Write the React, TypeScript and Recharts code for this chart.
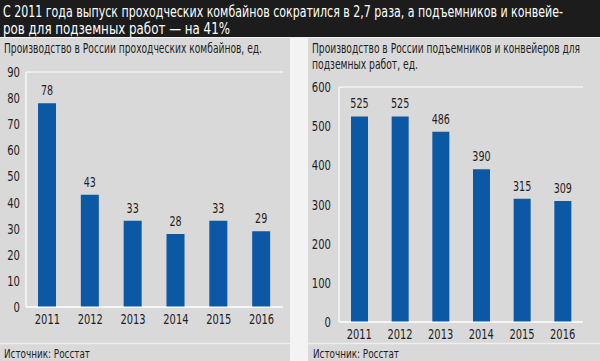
import React from "react";
import { BarChart, Bar, XAxis, YAxis, CartesianGrid, LabelList } from "recharts";

const years = ["2011", "2012", "2013", "2014", "2015", "2016"];
const combines = [78, 43, 33, 28, 33, 29];
const lifts = [525, 525, 486, 390, 315, 309];
const leftTicks = [0, 10, 20, 30, 40, 50, 60, 70, 80, 90];
const rightTicks = [0, 100, 200, 300, 400, 500, 600];

const headerLines = [
  "С 2011 года выпуск проходческих комбайнов сократился в 2,7 раза, а подъемников и конвейе-",
  "ров для подземных работ — на 41%",
];
const leftTitle = ["Производство в России проходческих комбайнов, ед."];
const rightTitle = ["Производство в России подъемников и конвейеров для", "подземных работ, ед."];
const sourceText = "Источник: Росстат";

const FONT = "'DejaVu Sans Condensed', 'DejaVu Sans', sans-serif";
const BAR = "#0b59a5";
const PANEL = "#d9d9d9";
const INK = "#1e1e1e";

const leftData = years.map((y, i) => ({ year: y, value: combines[i] }));
const rightData = years.map((y, i) => ({ year: y, value: lifts[i] }));

const XTick = (props: any) => {
  const { x, y, payload } = props;
  const s = String(payload.value);
  return (
    <text x={x} y={y} dy={11} textAnchor="middle" fill={INK} fontSize={14.5} fontFamily={FONT}
      textLength={s.length * 6.3} lengthAdjust="spacingAndGlyphs">{s}</text>
  );
};

const YTick = (props: any) => {
  const { x, y, payload } = props;
  const s = String(payload.value);
  return (
    <text x={x} y={y} dy={5} textAnchor="end" fill={INK} fontSize={14} fontFamily={FONT}
      textLength={s.length * 6.4} lengthAdjust="spacingAndGlyphs">{s}</text>
  );
};

const ValueLabel = (props: any) => {
  const { x, y, width, value } = props;
  const s = String(value);
  return (
    <text x={Number(x) + Number(width) / 2} y={Number(y) - 8} textAnchor="middle" fill={INK} fontSize={13.5}
      fontFamily={FONT} textLength={s.length * 6.1} lengthAdjust="spacingAndGlyphs">{s}</text>
  );
};

function Panel({
  data, ticks, max, left, width, height, yWidth, top, right, barSize, xMargin, yMargin,
}: any) {
  return (
    <div style={{ position: "absolute", left, top: 0 }}>
      <BarChart
        width={width}
        height={height}
        data={data}
        margin={{ top, right, left: 0, bottom: 0 }}
        barSize={barSize}
      >
        <CartesianGrid vertical={false} stroke="#ffffff" strokeWidth={1.2} />
        <XAxis
          dataKey="year"
          tick={<XTick />}
          tickLine={false}
          axisLine={{ stroke: "#ffffff", strokeWidth: 1.2 }}
          height={24}
          tickMargin={xMargin}
          tickSize={0}
          interval={0}
        />
        <YAxis
          yAxisId="l"
          domain={[0, max]}
          ticks={ticks}
          tick={<YTick />}
          tickLine={false}
          axisLine={{ stroke: "#ffffff", strokeWidth: 1.2 }}
          width={yWidth}
          tickSize={0}
          tickMargin={yMargin}
          interval={0}
        />
        <YAxis
          yAxisId="r"
          orientation="right"
          domain={[0, max]}
          ticks={ticks}
          tick={false}
          tickLine={false}
          axisLine={{ stroke: "#ffffff", strokeWidth: 1.2 }}
          width={0}
        />
        <Bar dataKey="value" yAxisId="l" fill={BAR} isAnimationActive={false}>
          <LabelList dataKey="value" content={<ValueLabel />} />
        </Bar>
      </BarChart>
    </div>
  );
}

export default function App() {
  return (
    <div style={{ position: "absolute", left: 0, top: 0, width: 600, height: 361, background: "#f3f3f3", overflow: "hidden" }}>
      <svg width={600} height={361} style={{ position: "absolute", left: 0, top: 0 }}>
        <rect x={0} y={0} width={600} height={37} fill="#1c1c1c" />
        <rect x={0} y={38} width={290} height={323} fill={PANEL} />
        <rect x={308} y={38} width={292} height={323} fill={PANEL} />
        <line x1={0} x2={290} y1={343.5} y2={343.5} stroke="#eeeeee" strokeWidth={1.5} />
        <line x1={308} x2={600} y1={343.5} y2={343.5} stroke="#eeeeee" strokeWidth={1.5} />
        <text x={3} y={16.5} fill="#ffffff" fontSize={16.5} fontFamily={FONT} textLength={560} lengthAdjust="spacingAndGlyphs">{headerLines[0]}</text>
        <text x={3} y={33.5} fill="#ffffff" fontSize={16.5} fontFamily={FONT} textLength={227} lengthAdjust="spacingAndGlyphs">{headerLines[1]}</text>
        <text x={4} y={53} fill={INK} fontSize={13.5} fontFamily={FONT} textLength={258} lengthAdjust="spacingAndGlyphs">{leftTitle[0]}</text>
        <text x={312} y={53} fill={INK} fontSize={13.5} fontFamily={FONT} textLength={268} lengthAdjust="spacingAndGlyphs">{rightTitle[0]}</text>
        <text x={312} y={69} fill={INK} fontSize={13.5} fontFamily={FONT} textLength={106} lengthAdjust="spacingAndGlyphs">{rightTitle[1]}</text>
        <text x={4} y={358} fill={INK} fontSize={13} fontFamily={FONT} textLength={86} lengthAdjust="spacingAndGlyphs">{sourceText}</text>
        <text x={313} y={358} fill={INK} fontSize={13} fontFamily={FONT} textLength={86} lengthAdjust="spacingAndGlyphs">{sourceText}</text>
      </svg>
      <Panel data={leftData} ticks={leftTicks} max={90} left={0} width={290} height={331}
        yWidth={26} top={72} right={7} barSize={18} xMargin={6} yMargin={6} />
      <Panel data={rightData} ticks={rightTicks} max={600} left={308} width={292} height={346}
        yWidth={31} top={87} right={17} barSize={17} xMargin={6} yMargin={8} />
    </div>
  );
}
